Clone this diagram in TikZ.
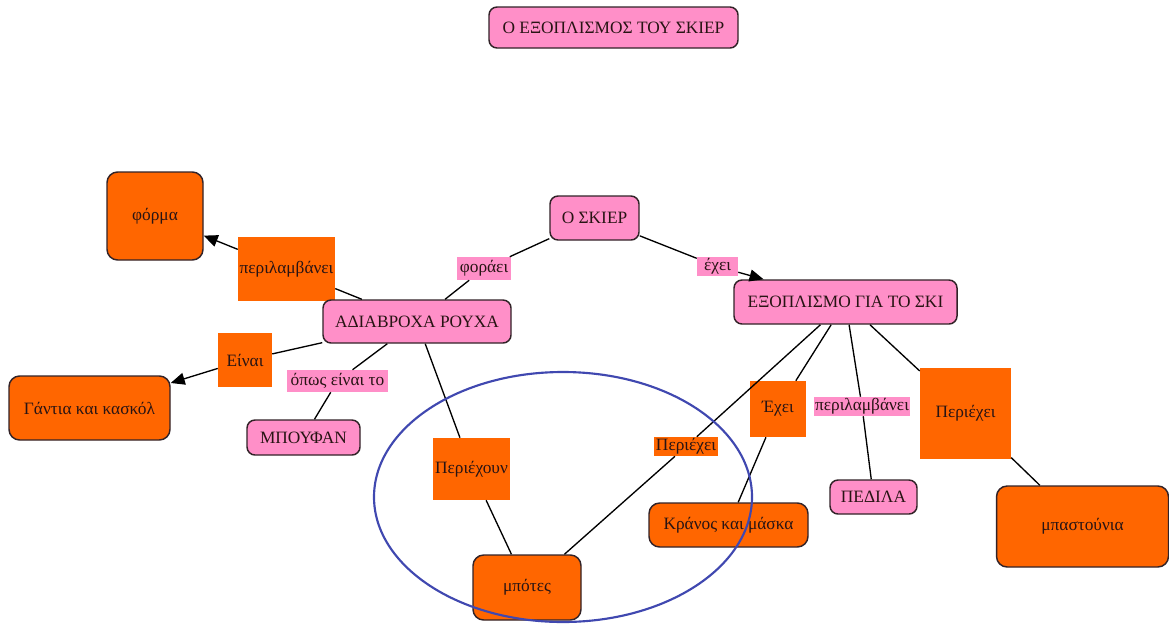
\documentclass[tikz,border=0pt]{standalone}
\usepackage{fontspec}
\setmainfont{Liberation Serif}
\usetikzlibrary{arrows.meta}
\definecolor{cpink}{RGB}{255,143,200}
\definecolor{corange}{RGB}{255,102,0}
\definecolor{cborder}{RGB}{50,35,40}
\definecolor{ctext}{RGB}{40,20,20}
\definecolor{cblue}{RGB}{64,72,176}
\begin{document}
\begin{tikzpicture}[x=0.75pt,y=-0.75pt,
  every node/.style={font=\fontsize{13}{15}\selectfont, text=ctext, inner sep=1pt, align=center},
  pinkbox/.style={draw=cborder, line width=1.1pt, fill=cpink, rounded corners=6pt},
  orangebox/.style={draw=cborder, line width=1.1pt, fill=corange, rounded corners=8pt},
  olabel/.style={fill=corange},
  plabel/.style={fill=cpink},
  conn/.style={line width=1pt, draw=black},
  arr/.style={conn, -{Triangle[length=10.5pt,width=9pt]}}
]
\useasboundingbox (0,0) rectangle (1169,625);
\fill[white] (0,0) rectangle (1169,625);

% nodes
\node[pinkbox, minimum width=186.75pt, minimum height=30.75pt] (title) at (613.5,27.5) {Ο ΕΞΟΠΛΙΣΜΟΣ ΤΟΥ ΣΚΙΕΡ};
\node[orangebox, minimum width=72pt, minimum height=66pt] (forma) at (155,216) {φόρμα};
\node[olabel, minimum width=72.75pt, minimum height=48pt] (perilL) at (286.5,269) {περιλαμβάνει};
\node[plabel, minimum width=40.5pt, minimum height=17.25pt] (forai) at (484,268.5) {φοράει};
\node[pinkbox, minimum width=66.75pt, minimum height=33pt] (skier) at (594.5,218) {Ο ΣΚΙΕΡ};
\node[plabel, minimum width=30.75pt, minimum height=14.25pt] (exei) at (717.5,266.5) {έχει};
\node[pinkbox, minimum width=167.25pt, minimum height=33pt] (exopl) at (845.5,302) {ΕΞΟΠΛΙΣΜΟ ΓΙΑ ΤΟ ΣΚΙ};
\node[pinkbox, minimum width=141pt, minimum height=32.25pt] (adiav) at (417,321.5) {ΑΔΙΑΒΡΟΧΑ ΡΟΥΧΑ};
\node[olabel, minimum width=40.5pt, minimum height=40.5pt] (einai) at (245,360) {Είναι};
\node[orangebox, minimum width=120.75pt, minimum height=48pt] (gantia) at (89.5,408) {Γάντια και κασκόλ};
\node[plabel, minimum width=75.75pt, minimum height=16.5pt] (opws) at (337.5,381) {όπως είναι το};
\node[pinkbox, minimum width=84.75pt, minimum height=26.25pt] (boufan) at (303.5,437.5) {ΜΠΟΥΦΑΝ};
\node[olabel, minimum width=57.75pt, minimum height=46.5pt] (perixoun) at (471.5,469) {Περιέχουν};
\node[orangebox, minimum width=81pt, minimum height=48.75pt] (botes) at (527,587.5) {μπότες};
\node[olabel, minimum width=48pt, minimum height=14.25pt] (periexM) at (686,446.5) {Περιέχει};
\node[olabel, minimum width=42pt, minimum height=42pt] (Exei) at (778,409) {Έχει};
\node[plabel, minimum width=72pt, minimum height=14.25pt] (perilR) at (862,406.5) {περιλαμβάνει};
\node[olabel, minimum width=68.25pt, minimum height=68.25pt] (periexR) at (965.5,413.5) {Περιέχει};
\node[pinkbox, minimum width=65.25pt, minimum height=25.5pt] (pedila) at (873.5,497) {ΠΕΔΙΛΑ};
\node[orangebox, minimum width=119.25pt, minimum height=33pt] (kranos) at (728.5,525) {Κράνος και μάσκα};
\node[orangebox, minimum width=129pt, minimum height=60.75pt] (mpast) at (1082.5,526.5) {μπαστούνια};

% connectors
\draw[conn] (skier) -- (forai);
\draw[conn] (forai) -- (adiav);
\draw[conn] (skier) -- (exei);
\draw[arr] (exei) -- (exopl);
\draw[conn] (adiav) -- (perilL);
\draw[arr] (perilL) -- (forma);
\draw[conn] (adiav) -- (einai);
\draw[arr] (einai) -- (gantia);
\draw[conn] (adiav) -- (opws);
\draw[conn] (opws) -- (boufan);
\draw[conn] (adiav) -- (perixoun);
\draw[conn] (perixoun) -- (botes);
\draw[conn] (exopl) -- (periexM);
\draw[conn] (periexM) -- (botes);
\draw[conn] (exopl) -- (Exei);
\draw[conn] (Exei) -- (kranos);
\draw[conn] (exopl) -- (perilR);
\draw[conn] (perilR) -- (pedila);
\draw[conn] (exopl) -- (periexR);
\draw[conn] (periexR) -- (mpast);

% ellipse (drawn over the nodes, as in the original)
\draw[cblue, line width=1.6pt] (563,497) ellipse [x radius=141.75pt, y radius=93.75pt];
\end{tikzpicture}
\end{document}
